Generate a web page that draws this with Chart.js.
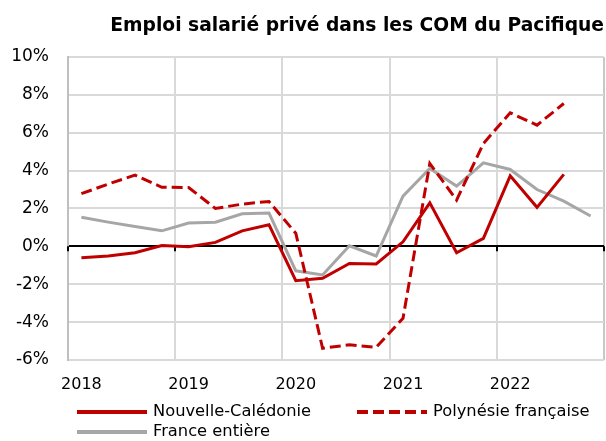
<!DOCTYPE html>
<html><head><meta charset="utf-8">
<script src="https://cdn.jsdelivr.net/npm/chart.js@4.4.1/dist/chart.umd.min.js"></script>
<style>html,body{margin:0;padding:0;background:#fff;overflow:hidden}</style>
</head><body><canvas id="c" width="606" height="441"></canvas>
<script>
const quarters = ['2018T1','2018T2','2018T3','2018T4','2019T1','2019T2','2019T3','2019T4','2020T1','2020T2','2020T3','2020T4','2021T1','2021T2','2021T3','2021T4','2022T1','2022T2','2022T3','2022T4'];
const yearLabels = ['2018','2019','2020','2021','2022'];
const yTicks = [-6,-4,-2,0,2,4,6,8,10];
const nouvelleCaledonie = [-0.60,-0.51,-0.34,0.04,-0.02,0.21,0.82,1.14,-1.81,-1.69,-0.90,-0.93,0.24,2.30,-0.34,0.42,3.72,2.06,3.80,null];
const polynesieFrancaise = [2.78,3.29,3.76,3.12,3.11,2.00,2.23,2.37,0.69,-5.38,-5.20,-5.33,-3.80,4.38,2.44,5.43,7.05,6.40,7.54,null];
const franceEntiere = [1.54,1.28,1.05,0.82,1.23,1.27,1.72,1.76,-1.29,-1.51,0.03,-0.51,2.65,4.11,3.18,4.41,4.06,3.00,2.39,1.60];

const FONT = "'DejaVu Sans',sans-serif";

const zeroTicks = {
  id:'zeroTicks',
  beforeDatasetsDraw(chart){
    const x=chart.scales.x, y=chart.scales.y, ctx=chart.ctx;
    const y0=y.getPixelForValue(0);
    ctx.save(); ctx.strokeStyle='#000'; ctx.lineWidth=2;
    for(let i=0;i<=quarters.length;i+=4){
      const px = Math.round(x.left + x.width*i/quarters.length);
      ctx.beginPath(); ctx.moveTo(px,y0); ctx.lineTo(px,y0+5); ctx.stroke();
    }
    ctx.restore();
  }
};

const customLegend = {
  id:'customLegend',
  afterDraw(chart, args, opts){
    const ctx=chart.ctx;
    ctx.save();
    ctx.font = opts.font;
    ctx.textBaseline='middle';
    chart.data.datasets.forEach((ds,i)=>{
      const x = opts.cols[i%2], y = opts.rows[Math.floor(i/2)];
      ctx.strokeStyle = ds.borderColor; ctx.lineWidth = opts.lineWidth;
      ctx.setLineDash(ds.borderDash || []);
      ctx.beginPath(); ctx.moveTo(x,y); ctx.lineTo(x+opts.sample,y); ctx.stroke();
      ctx.setLineDash([]);
      ctx.fillStyle='#000';
      ctx.fillText(ds.label, x+opts.sample+opts.gap, y);
    });
    ctx.restore();
  }
};

new Chart(document.getElementById('c'), {
  type:'line',
  data:{
    labels: quarters,
    datasets:[
      {label:'Nouvelle-Calédonie', data:nouvelleCaledonie, borderColor:'#C00000', borderWidth:3, pointRadius:0, tension:0},
      {label:'Polynésie française', data:polynesieFrancaise, borderColor:'#C00000', borderWidth:3, borderDash:[11,5], pointRadius:0, tension:0},
      {label:'France entière', data:franceEntiere, borderColor:'#A6A6A6', borderWidth:3, pointRadius:0, tension:0}
    ]
  },
  options:{
    responsive:false, animation:false, devicePixelRatio:1,
    layout:{padding:{left:0,right:2,top:0,bottom:46}},
    plugins:{
      legend:{display:false},
      tooltip:{enabled:false},
      title:{display:true, text:'Emploi salarié privé dans les COM du Pacifique', align:'end', color:'#000',
        font:{family:FONT, size:18.7, weight:'bold', lineHeight:1.2}, padding:{top:15,bottom:19.5}},
      customLegend:{font:"16.3px "+FONT, cols:[77,357], rows:[412,432], sample:70, gap:6, lineWidth:4}
    },
    scales:{
      x:{type:'category', offset:true, position:'bottom',
        afterFit:(s)=>{ s.height = 35; },
        ticks:{color:'#000', font:{family:FONT, size:16}, padding:15, autoSkip:false, maxRotation:0, minRotation:0,
          callback:(v,i)=> i%4===0 ? yearLabels[i/4] : ''},
        border:{display:false},
        grid:{offset:true, drawTicks:false, lineWidth:2,
          color:(c)=> c.type!=='tick' ? '#c8c8c8' : (c.index%4===0 ? '#d9d9d9' : 'rgba(0,0,0,0)')}
      },
      y:{min:-6, max:10,
        afterBuildTicks:(s)=>{ s.ticks = yTicks.map(v=>({value:v})); },
        afterFit:(s)=>{ s.width = 68; },
        ticks:{color:'#000', font:{family:FONT, size:17}, padding:19, callback:(v)=>v+'%'},
        border:{color:'#bfbfbf', width:2},
        grid:{drawTicks:false, color:(c)=> c.tick && c.tick.value===0 ? '#000' : '#d9d9d9', lineWidth:2}
      }
    }
  },
  plugins:[zeroTicks, customLegend]
});
</script></body></html>
